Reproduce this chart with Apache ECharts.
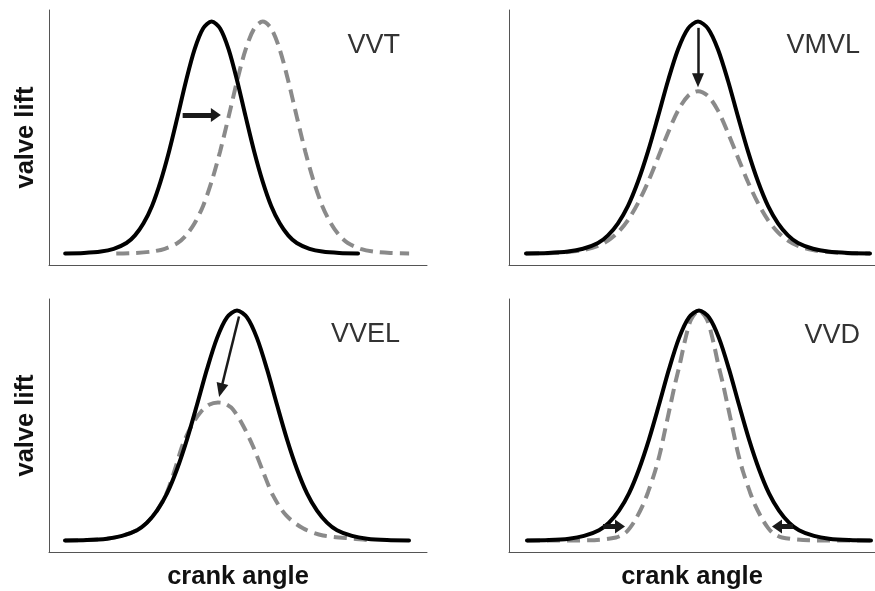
<!DOCTYPE html>
<html>
<head>
<meta charset="utf-8">
<script src="https://cdn.jsdelivr.net/npm/echarts@6/dist/echarts.min.js"></script>
<style>
  html, body { margin: 0; padding: 0; background: #ffffff; }
  #chart { width: 875px; height: 591px; }
</style>
</head>
<body>
<div id="chart"></div>
<script>
// Base cam profile: crank angle (deg) and normalised valve lift
const baseAngle = [8, 30, 50, 65, 80, 90, 100, 110, 120, 130, 140, 150, 160, 170, 180, 190, 200, 210, 220, 230, 240, 250, 260, 270, 280, 295, 310, 330, 352];
const baseLift  = [0, 0.002, 0.008, 0.02, 0.045, 0.078, 0.13, 0.205, 0.31, 0.44, 0.59, 0.745, 0.88, 0.97, 1.0, 0.97, 0.88, 0.745, 0.59, 0.44, 0.31, 0.205, 0.13, 0.078, 0.045, 0.02, 0.008, 0.002, 0];

// VVT: same lift, phased later
const vvtAngle = [68, 90, 110, 125, 140, 150, 160, 170, 180, 190, 200, 210, 220, 230, 240, 250, 260, 270, 280, 290, 300, 310, 320, 330, 340, 355, 370, 390, 412];
const vvtLift  = [0, 0.002, 0.008, 0.02, 0.045, 0.078, 0.13, 0.205, 0.31, 0.44, 0.59, 0.745, 0.88, 0.97, 1.0, 0.97, 0.88, 0.745, 0.59, 0.44, 0.31, 0.205, 0.13, 0.078, 0.045, 0.02, 0.008, 0.002, 0];

// VMVL: reduced maximum lift
const vmvlAngle = [8, 30, 50, 65, 80, 90, 100, 110, 120, 130, 140, 150, 160, 170, 180, 190, 200, 210, 220, 230, 240, 250, 260, 270, 280, 295, 310, 330, 352];
const vmvlLift  = [0, 0.001, 0.006, 0.014, 0.032, 0.055, 0.091, 0.144, 0.217, 0.308, 0.413, 0.52, 0.616, 0.679, 0.70, 0.679, 0.616, 0.52, 0.413, 0.308, 0.217, 0.144, 0.091, 0.055, 0.032, 0.014, 0.006, 0.001, 0];

// VVEL: early closing, lower lift
const vvelAngle = [8, 30, 50, 65, 80, 90, 100, 110, 118, 126, 136, 144, 152, 161, 168, 176, 186, 196, 206, 216, 229, 246, 266, 299, 316];
const vvelLift  = [0, 0.002, 0.008, 0.02, 0.045, 0.078, 0.13, 0.21, 0.31, 0.42, 0.51, 0.56, 0.59, 0.60, 0.595, 0.57, 0.50, 0.41, 0.30, 0.196, 0.11, 0.053, 0.022, 0.007, 0];

// VVD: shorter duration, same peak
const vvdAngle = [8, 40, 70, 97, 106, 111, 117, 124, 129, 136, 141, 146, 151, 156, 161, 166, 172, 180, 188, 194, 199, 204, 209, 214, 219, 224, 231, 236, 243, 249, 254, 263, 290, 320, 352];
const vvdLift  = [0, 0, 0.001, 0.013, 0.032, 0.055, 0.095, 0.155, 0.21, 0.30, 0.38, 0.48, 0.58, 0.68, 0.77, 0.87, 0.96, 1.0, 0.96, 0.87, 0.77, 0.68, 0.58, 0.48, 0.38, 0.30, 0.21, 0.155, 0.095, 0.055, 0.032, 0.013, 0.001, 0, 0];

// Arrow annotations: [angle0, lift0, angle1, lift1], second point is the head centre
const vvtArrow   = [146, 0.597, 185, 0.597];
const vmvlArrow  = [180, 0.973, 180, 0.747];
const vvelArrow  = [182, 0.974, 163.8, 0.653];
const vvdArrowL  = [84, 0.061, 101, 0.061];
const vvdArrowR  = [274, 0.061, 258, 0.061];

const panelTitles = ['VVT', 'VMVL', 'VVEL', 'VVD'];
const xTitle = 'crank angle';
const yTitle = 'valve lift';

const pairs = (xs, ys) => xs.map((x, i) => [x, ys[i]]);

const chart = echarts.init(document.getElementById('chart'), null, { renderer: 'canvas' });

const grids = [
  { left: 49,  top: 10,  width: 378, height: 255 },
  { left: 509, top: 10,  width: 366, height: 255 },
  { left: 49,  top: 299, width: 378, height: 255 },
  { left: 509, top: 299, width: 366, height: 255 }
];
const xRanges = [[-11, 433], [-9, 357], [-8, 370], [-10, 356]];

const axisLine = { show: true, onZero: false, lineStyle: { color: '#555555', width: 1 } };
const nameStyle = { fontSize: 25.5, fontWeight: 'bold', color: '#111111', fontFamily: 'Liberation Sans, Arial, sans-serif' };

const xAxes = grids.map((g, i) => ({
  type: 'value', gridIndex: i, min: xRanges[i][0], max: xRanges[i][1],
  axisLine: axisLine, axisTick: { show: false }, axisLabel: { show: false }, splitLine: { show: false },
  name: i >= 2 ? xTitle : '', nameLocation: 'middle', nameGap: 12, nameTextStyle: nameStyle
}));
const yAxes = grids.map((g, i) => ({
  type: 'value', gridIndex: i, min: -0.05, max: 1.05,
  axisLine: axisLine, axisTick: { show: false }, axisLabel: { show: false }, splitLine: { show: false },
  name: i % 2 === 0 ? yTitle : '', nameLocation: 'middle', nameRotate: 90, nameGap: 10, nameTextStyle: nameStyle
}));

const solid = { color: '#000000', width: 4, cap: 'round', join: 'round' };
const dashed = { color: '#8a8a8a', width: 4, type: [13, 7] };

function marks(list) {
  return {
    silent: true, animation: false, symbol: ['none', 'triangle'],
    label: { show: false },
    data: list.map(m => [
      { coord: [m.a[0], m.a[1]], symbol: 'none', lineStyle: { color: '#1a1a1a', width: m.w, type: 'solid' } },
      { coord: [m.a[2], m.a[3]], symbol: 'triangle', symbolSize: m.head }
    ]),
    lineStyle: { color: '#1a1a1a', type: 'solid' },
    itemStyle: { color: '#1a1a1a' }
  };
}

const series = [];
const altCurves = [[vvtAngle, vvtLift], [vmvlAngle, vmvlLift], [vvelAngle, vvelLift], [vvdAngle, vvdLift]];
const arrowSets = [
  [{ a: vvtArrow, w: 5, head: [14, 10] }],
  [{ a: vmvlArrow, w: 2.5, head: [12, 14] }],
  [{ a: vvelArrow, w: 2.5, head: [12, 14] }],
  [{ a: vvdArrowL, w: 5, head: [14, 10] }, { a: vvdArrowR, w: 5, head: [14, 10] }]
];
for (let i = 0; i < 4; i++) {
  // modified profile (dashed) underneath, with its arrow annotation
  series.push({
    type: 'line', xAxisIndex: i, yAxisIndex: i, data: pairs(altCurves[i][0], altCurves[i][1]),
    showSymbol: false, smooth: 0.3, lineStyle: dashed, z: 2, silent: true,
    markLine: marks(arrowSets[i])
  });
  // base profile (solid) on top
  series.push({
    type: 'line', xAxisIndex: i, yAxisIndex: i, data: pairs(baseAngle, baseLift),
    showSymbol: false, smooth: 0.3, lineStyle: solid, z: 3, silent: true
  });
}

const titlePos = [[400, 46], [860, 46], [400, 335], [860, 336]];
const graphic = panelTitles.map((t, i) => ({
  type: 'text', x: titlePos[i][0], y: titlePos[i][1], silent: true,
  style: {
    text: t, fill: '#333333', font: '27px "Liberation Sans", Arial, sans-serif',
    align: 'right', verticalAlign: 'middle', textAlign: 'right', textVerticalAlign: 'middle'
  }
}));

chart.setOption({
  animation: false,
  backgroundColor: '#ffffff',
  grid: grids,
  xAxis: xAxes,
  yAxis: yAxes,
  series: series,
  graphic: graphic
});
</script>
</body>
</html>
